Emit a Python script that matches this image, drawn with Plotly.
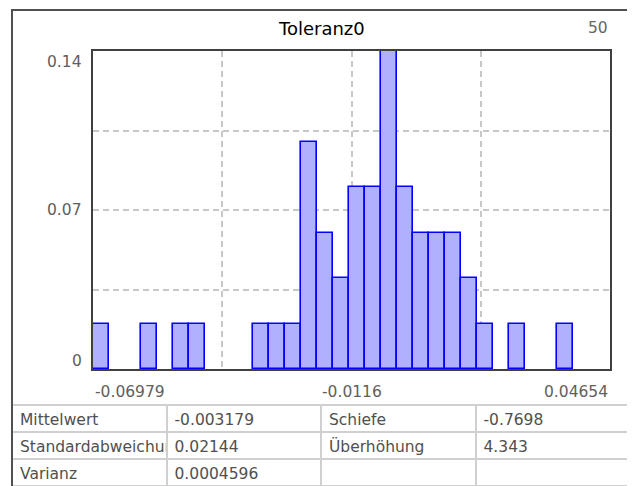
# Histogram of Toleranz0 with a small statistics table underneath

import plotly.graph_objs as go

# Histogram data
x_min = -0.06979
x_max = 0.04654
bin_width = 0.0036
bin_counts = [1, 0, 0, 1, 0, 1, 1, 0, 0, 0, 1, 1, 1, 5, 3, 2,
              4, 4, 7, 4, 3, 3, 3, 2, 1, 0, 1, 0, 0, 1, 0, 0]
n_samples = sum(bin_counts)

y_max = 0.14
y_tick_values = [0, 0.07, 0.14]
y_tick_labels = ["0", "0.07", "0.14"]
x_tick_values = [-0.06979, -0.0116, 0.04654]
x_tick_labels = ["-0.06979", "-0.0116", "0.04654"]

# Statistics table
stat_names_left = ["Mittelwert", "Standardabweichung", "Varianz"]
stat_values_left = ["-0.003179", "0.02144", "0.0004596"]
stat_names_right = ["Schiefe", "Überhöhung", ""]
stat_values_right = ["-0.7698", "4.343", ""]

FONT = "DejaVu Sans"
# the page body has an 8px margin, so the figure is 8px smaller than the window
OFF = 8
W, H = 635 - OFF, 486 - OFF
L, R, T, B = 12 - OFF, 5, 10 - OFF, 0


# reference pixel -> paper coordinates of the plotting area
def px(x):
    return (x - OFF - L) / (W - L - R)


def py(y):
    return (H - B - (y - OFF)) / (H - T - B)


# only non-empty bins get a bar
centers = [x_min + (i + 0.5) * bin_width for i, c in enumerate(bin_counts) if c > 0]
freqs = [c / n_samples for c in bin_counts if c > 0]

fig = go.Figure()
fig.add_trace(go.Bar(x=centers, y=freqs, width=bin_width,
                     marker=dict(color="#b0b0ff", line=dict(color="#0000ff", width=1.6)),
                     showlegend=False, hoverinfo="skip"))

# first row goes in the header, styled like the other cells
columns = [stat_names_left, stat_values_left, stat_names_right, stat_values_right]
cell_style = dict(align="left", height=27, fill_color="white",
                  line=dict(color="#d0d0d0", width=2),
                  font=dict(family=FONT, size=15.5, color="#505050"))
fig.add_trace(go.Table(
    domain=dict(x=[0, 1], y=[0, py(405)]),
    columnwidth=[1, 1, 1, 1],
    header=dict(values=[col[0] for col in columns], **cell_style),
    cells=dict(values=[col[1:] for col in columns], **cell_style),
))

fig.update_layout(
    width=W, height=H,
    margin=dict(l=L, r=R, t=T, b=B, pad=0),
    paper_bgcolor="white", plot_bgcolor="white",
    bargap=0,
    font=dict(family=FONT, size=15.5, color="#606060"),
)

fig.update_xaxes(domain=[px(93), px(610)], range=[x_min, x_max],
                 tick0=x_min, dtick=(x_max - x_min) / 4, showticklabels=False, ticks="",
                 showgrid=True, gridcolor="#c8c8c8", gridwidth=1.5, griddash="6px,4px",
                 showline=True, linecolor="#404040", linewidth=2, mirror=True,
                 zeroline=False, layer="below traces", fixedrange=True)
fig.update_yaxes(domain=[py(369), py(51)], range=[0, y_max],
                 dtick=0.035, showticklabels=False, ticks="",
                 showgrid=True, gridcolor="#c8c8c8", gridwidth=1.5, griddash="6px,4px",
                 showline=True, linecolor="#404040", linewidth=2, mirror=True,
                 zeroline=False, fixedrange=True)

# Title and sample count
fig.add_annotation(text="Toleranz0", xref="paper", yref="paper", x=0.5, y=py(29),
                   yanchor="middle", showarrow=False, font=dict(size=18, color="#000000"))
fig.add_annotation(text=str(n_samples), xref="paper", yref="paper", x=px(610), y=py(28),
                   xanchor="right", yanchor="middle", showarrow=False,
                   font=dict(color="#666666"))

# Y tick labels, kept inside the plot range like the original
for val, lab in zip(y_tick_values, y_tick_labels):
    anchor = "top" if val == y_max else ("bottom" if val == 0 else "middle")
    shift = -3 if val == 0 else 0
    fig.add_annotation(text=lab, xref="paper", yref="y", x=px(84), y=val,
                       xanchor="right", yanchor=anchor, yshift=shift, showarrow=False)

# X tick labels: left, centre, right aligned
for i, (val, lab) in enumerate(zip(x_tick_values, x_tick_labels)):
    anchor = ["left", "center", "right"][i]
    fig.add_annotation(text=lab, xref="x", yref="paper", x=val, y=py(392),
                       xanchor=anchor, yanchor="middle", showarrow=False)

# Outer frame
fig.add_shape(type="rect", xref="paper", yref="paper", x0=0, x1=1, y0=-0.02, y1=1,
              line=dict(color="#505050", width=2), layer="above")

fig.write_html("out.html")
